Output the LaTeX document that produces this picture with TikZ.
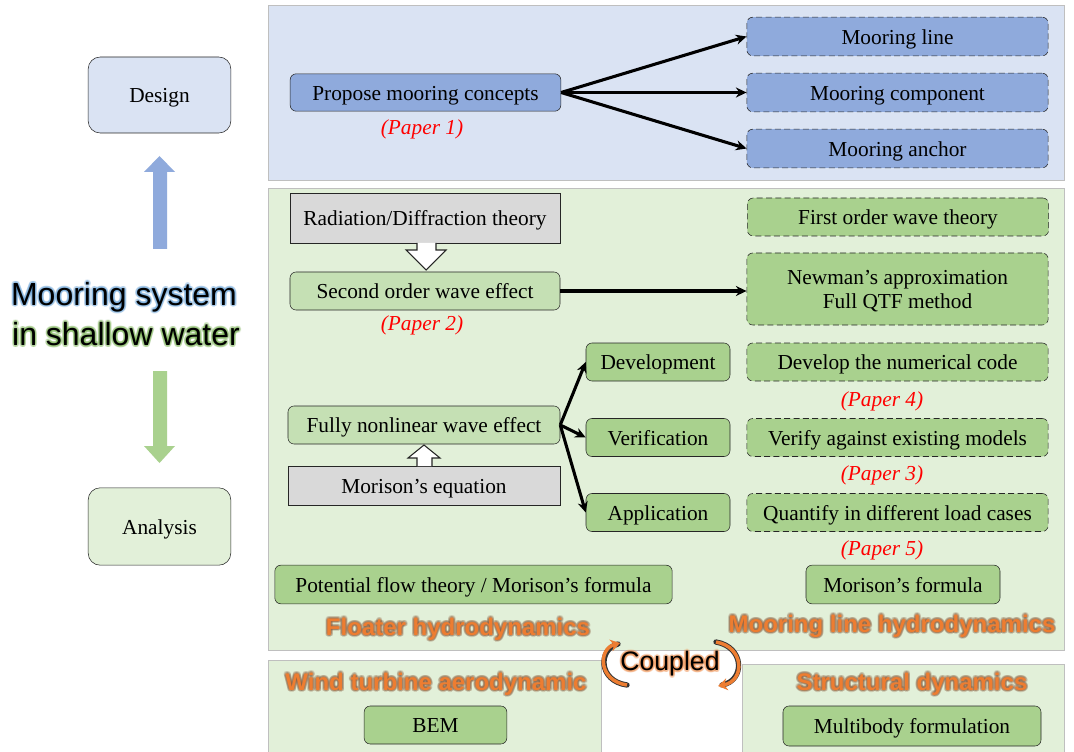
\documentclass[tikz,border=0pt]{standalone}
\usepackage{fontspec}
\setmainfont{Liberation Serif}
\newfontfamily\arialfont{Liberation Sans}
\usetikzlibrary{calc,arrows.meta}

\definecolor{bluepanel}{HTML}{DAE3F3}
\definecolor{bluebox}{HTML}{8FAADC}
\definecolor{greenpanel}{HTML}{E2F0D9}
\definecolor{greenbox}{HTML}{A9D18E}
\definecolor{lightgreen}{HTML}{C5E0B4}
\definecolor{greybox}{HTML}{D9D9D9}
\definecolor{titleorange}{HTML}{ED7D31}
\definecolor{haloorange}{HTML}{8A5A3A}
\definecolor{haloblue}{HTML}{5B9BD5}
\definecolor{halogreen}{HTML}{70AD47}
\definecolor{paperred}{HTML}{FF0000}

% text with a soft halo: name, position, style, halo colour, text
\newcommand{\halonode}[5]{%
  \foreach \ang in {0,30,...,330}
    \node[#3, text=#4, opacity=0.22] at ($(#2)+(\ang:1.9)$) {#5};
  \node[#3] (#1) at (#2) {#5};
}

\begin{document}
\begin{tikzpicture}[x=0.75pt,y=-0.75pt]
  \tikzstyle{box} = [draw=black!85, rounded corners=4.5pt, inner sep=0pt, align=center, text height=11.5pt, text depth=0pt, font=\fontsize{16}{19}\selectfont];
  \tikzstyle{blue_box}   = [box, fill=bluebox, minimum height=28pt];
  \tikzstyle{green_box}  = [box, fill=greenbox, minimum height=28.5pt];
  \tikzstyle{light_box}  = [box, fill=lightgreen, minimum height=28.5pt];
  \tikzstyle{grey_box}   = [box, fill=greybox, rounded corners=0pt];
  \tikzstyle{dashes}     = [dash pattern=on 4.5pt off 2.5pt];
  \tikzstyle{dash_blue}  = [blue_box, dashes, minimum width=226pt, minimum height=29pt];
  \tikzstyle{dash_green} = [green_box, dashes, minimum width=226pt];
  \tikzstyle{side_box}   = [box, rounded corners=9pt, minimum width=107pt, minimum height=57pt];
  \tikzstyle{paper}      = [text=paperred, font=\fontsize{16}{19}\selectfont\itshape];
  \tikzstyle{panel}      = [draw=black!25, line width=0.6pt];
  \tikzstyle{part_title} = [text=titleorange, font=\arialfont\bfseries\fontsize{18}{21}\selectfont];
  \tikzstyle{big_title}  = [font=\arialfont\fontsize{24}{28}\selectfont];
  \tikzstyle{link}       = [-{Stealth[length=8pt,width=7.5pt]}, line width=2.3pt];
  \tikzstyle{hollow}     = [draw=black!85, fill=white, line width=0.8pt];

  \useasboundingbox (0,0) rectangle (1074,752);

  % panels
  \fill[white] (0,0) rectangle (1074,752);
  \draw[panel, fill=bluepanel]  (268,5) rectangle (1064,180);
  \draw[panel, fill=greenpanel] (268,188) rectangle (1064,650);
  \draw[panel, fill=greenpanel] (268,660) rectangle (601,760);
  \draw[panel, fill=greenpanel] (742,664) rectangle (1064,760);

  % left column
  \node[side_box, fill=bluepanel] (design) at (159.5,95) {Design};
  \node[side_box, fill=greenpanel, minimum height=58pt] (analysis) at (159.5,526.5) {Analysis};
  \fill[bluebox] (153,249) -- (153,172) -- (144,172) -- (159.5,156) -- (175,172) -- (167,172) -- (167,249) -- cycle;
  \fill[greenbox] (153,371) -- (153,446) -- (144,446) -- (159.5,463) -- (175,446) -- (167,446) -- (167,371) -- cycle;
  \halonode{title1}{124,297}{big_title}{haloblue}{Mooring system}
  \halonode{title2}{126,334}{big_title}{halogreen}{in shallow water}

  % design
  \node[blue_box, minimum width=203pt] (propose) at (425.5,92.5) {Propose mooring concepts};
  \node[paper] (paper1) at (422,129) {(Paper 1)};
  \node[dash_blue] (line) at (897.5,36.5) {Mooring line};
  \node[dash_blue] (component) at (897.5,92.5) {Mooring component};
  \node[dash_blue] (anchor) at (897.5,148.5) {Mooring anchor};
  \draw[link] (propose.east) -- (line.west);
  \draw[link] (propose.east) -- (component.west);
  \draw[link] (propose.east) -- (anchor.west);

  % floater hydrodynamics
  \node[grey_box, minimum width=202.5pt, minimum height=37.5pt] (radiation) at (425,218) {Radiation/Diffraction theory};
  \draw[hollow] (417,243) -- (417,250) -- (406,250) -- (426,270) -- (446,250) -- (436,250) -- (436,243);
  \node[light_box, minimum width=202.5pt] (second) at (425,291) {Second order wave effect};
  \node[paper] (paper2) at (422,325) {(Paper 2)};
  \node[dash_green] (first) at (898,217) {First order wave theory};
  \node[dash_green, minimum height=54pt, text height=] (newman) at (897.5,289) {Newman’s approximation\\[-1pt]Full QTF method};
  \draw[link] (second.east) -- (newman.west |- second.east);

  \node[light_box, minimum width=204pt] (nonlinear) at (424,425) {Fully nonlinear wave effect};
  \node[grey_box, minimum width=204pt, minimum height=29pt] (morison) at (424,486) {Morison’s equation};
  \draw[hollow] (417,466) -- (417,458) -- (408,458) -- (424,445) -- (440,458) -- (432,458) -- (432,466);

  \node[green_box, minimum width=108pt] (develop) at (658,362) {Development};
  \node[green_box, minimum width=108pt] (verify) at (658,437.5) {Verification};
  \node[green_box, minimum width=108pt] (apply) at (658,512.5) {Application};
  \draw[link] (nonlinear.east) -- (develop.west);
  \draw[link] (nonlinear.east) -- (verify.west);
  \draw[link] (nonlinear.east) -- (apply.west);

  \node[dash_green] (code) at (897.5,362) {Develop the numerical code};
  \node[paper] (paper4) at (882,401) {(Paper 4)};
  \node[dash_green] (models) at (897.5,437.5) {Verify against existing models};
  \node[paper] (paper3) at (882,475) {(Paper 3)};
  \node[dash_green] (cases) at (897.5,512.5) {Quantify in different load cases};
  \node[paper] (paper5) at (882,550) {(Paper 5)};

  \node[green_box, minimum width=298pt, minimum height=29pt] (potential) at (473.5,584.5) {Potential flow theory / Morison’s formula};
  \node[green_box, minimum width=145.5pt, minimum height=29pt] (formula) at (903,584.5) {Morison’s formula};
  \halonode{floater}{458,629}{part_title}{haloorange}{Floater hydrodynamics}
  \halonode{mooringhd}{892,626}{part_title}{haloorange}{Mooring line hydrodynamics}

  % coupling
  \halonode{coupled}{670,664}{big_title, font=\arialfont\fontsize{20}{24}\selectfont}{titleorange}{Coupled}
  \draw[line width=4pt, black!80, line cap=round] (627,685) .. controls (598,681) and (598,649) .. (618,644);
  \draw[line width=2.6pt, titleorange, -{Stealth[length=7pt,width=9pt]}] (627,685) .. controls (598,681) and (598,649) .. (620,643);
  \draw[line width=4pt, black!80, line cap=round] (716,642) .. controls (745,647) and (745,681) .. (722,685);
  \draw[line width=2.6pt, titleorange, -{Stealth[length=7pt,width=9pt]}] (716,642) .. controls (745,647) and (745,681) .. (718,686);

  % aerodynamics and structure
  \halonode{aero}{436,684}{part_title}{haloorange}{Wind turbine aerodynamic}
  \node[green_box, minimum width=107pt] (bem) at (435.5,725) {BEM};
  \halonode{struct}{912,684}{part_title}{haloorange}{Structural dynamics}
  \node[green_box, minimum width=193.5pt, minimum height=30pt] (multibody) at (912,726) {Multibody formulation};

\end{tikzpicture}
\end{document}
